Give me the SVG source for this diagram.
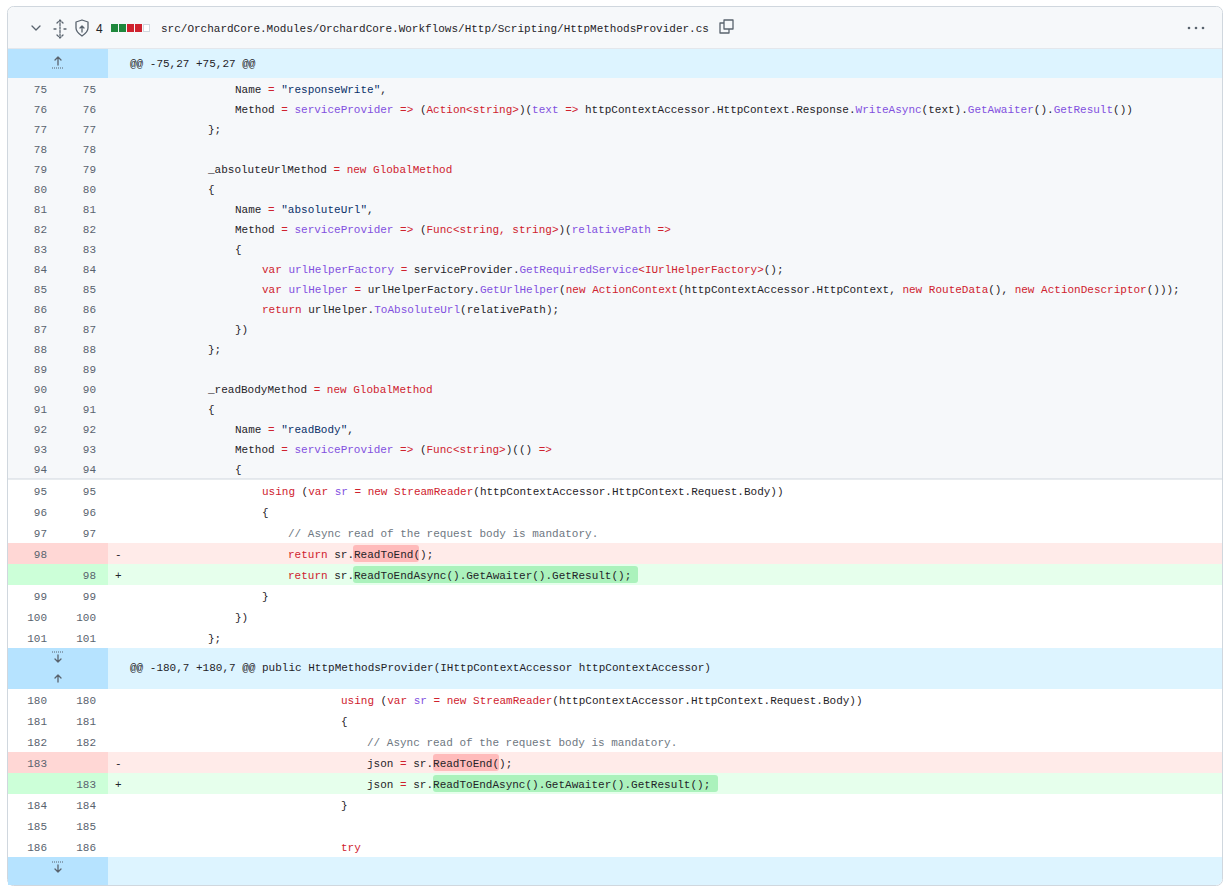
<svg xmlns="http://www.w3.org/2000/svg" width="1230" height="894" viewBox="0 0 1230 894">
<style>
text{font-family:"Liberation Mono","DejaVu Sans Mono",monospace;font-size:11px;fill:#1f2328;white-space:pre}
.n{fill:#59636e;text-anchor:end}
.k{fill:#cf222e}.f{fill:#8250df}.s{fill:#0a3069}.c{fill:#6e7781}
.ic{fill:none;stroke:#59636e;stroke-width:1.3;stroke-linecap:round;stroke-linejoin:round}
</style>
<rect x="0" y="0" width="1230" height="894" fill="#fff"/>
<g id="frame">
<rect x="7.5" y="6.5" width="1215" height="879" rx="6" fill="#fff" stroke="#d0d7de"/>
<path d="M8 49 V13 a6 6 0 0 1 6 -6 H1216 a6 6 0 0 1 6 6 V49 Z" fill="#f6f8fa"/>
<line x1="8" y1="49" x2="1222" y2="49" stroke="#d0d7de"/>
</g>
<g id="header">
<path class="ic" d="M32 26 l4 4 l4 -4"/>
<path class="ic" d="M60 20 v18 M57 23 l3 -3 l3 3 M57 35 l3 3 l3 -3 M54 29 h2 M64 29 h2" stroke-dasharray="2 1.5"/>
<path class="ic" d="M82 20 l6 2 v6 c0 4 -3 6 -6 8 c-3 -2 -6 -4 -6 -8 v-6 z M82 32 v-6 M80 28 l2 -2 l2 2"/>
<text x="96" y="33" style="font-family:'Liberation Sans',sans-serif;font-size:12px">4</text>
<rect x="111" y="24" width="7" height="8" fill="#1f883d"/>
<rect x="119" y="24" width="7" height="8" fill="#1f883d"/>
<rect x="127" y="24" width="7" height="8" fill="#cf222e"/>
<rect x="135" y="24" width="7" height="8" fill="#cf222e"/>
<rect x="143.5" y="24.5" width="6" height="7" fill="#fff" stroke="#d0d7de"/>
<text x="161" y="32" style="font-size:11px">src/OrchardCore.Modules/OrchardCore.Workflows/Http/Scripting/HttpMethodsProvider.cs</text>
<path class="ic" d="M724 23 h-4 v10 h9 v-4 M724 20 h9 v9 h-9 z"/>
<circle cx="1189" cy="28" r="1.3" fill="#59636e"/><circle cx="1196" cy="28" r="1.3" fill="#59636e"/><circle cx="1203" cy="28" r="1.3" fill="#59636e"/>
</g>
<g id="backgrounds">
<rect x="8" y="49" width="100" height="29" fill="#b6e3ff"/><rect x="108" y="49" width="1114" height="29" fill="#ddf4ff"/>
<rect x="8" y="78" width="1214" height="401" fill="#f6f8fa"/>
<line x1="8" y1="479" x2="1222" y2="479" stroke="#d0d7de"/>
<rect x="8" y="543" width="100" height="21" fill="#ffd7d5"/><rect x="108" y="543" width="1114" height="21" fill="#ffebe9"/>
<rect x="8" y="564" width="100" height="21" fill="#ccffd8"/><rect x="108" y="564" width="1114" height="21" fill="#e6ffec"/>
<rect x="8" y="648" width="100" height="41" fill="#b6e3ff"/><rect x="108" y="648" width="1114" height="41" fill="#ddf4ff"/>
<rect x="8" y="752" width="100" height="21" fill="#ffd7d5"/><rect x="108" y="752" width="1114" height="21" fill="#ffebe9"/>
<rect x="8" y="773" width="100" height="21" fill="#ccffd8"/><rect x="108" y="773" width="1114" height="21" fill="#e6ffec"/>
<rect x="8" y="857" width="100" height="28" fill="#b6e3ff"/><path d="M108 857 H1222 V879 a6 6 0 0 1 -6 6 H108 Z" fill="#ddf4ff"/>
<rect x="353" y="545" width="66" height="17" rx="3" fill="#ff8182" fill-opacity="0.45"/>
<rect x="353" y="566" width="285" height="17" rx="3" fill="#abf2bc"/>
<rect x="433" y="754" width="66" height="17" rx="3" fill="#ff8182" fill-opacity="0.45"/>
<rect x="433" y="775" width="285" height="17" rx="3" fill="#abf2bc"/>
</g>
<g id="hunk-icons">
<path class="ic" d="M58 65 v-8 M55 60 l3 -3 l3 3"/><path d="M52 68 h12" stroke="#59636e" stroke-dasharray="1 1"/>
<path d="M52 652 h12" stroke="#59636e" stroke-dasharray="1 1"/><path class="ic" d="M58 655 v7 M55 659 l3 3 l3 -3"/>
<path class="ic" d="M58 682 v-7 M55 678 l3 -3 l3 3"/>
<path d="M52 862 h12" stroke="#59636e" stroke-dasharray="1 1"/><path class="ic" d="M58 865 v7 M55 869 l3 3 l3 -3"/>
<text x="130" y="67">@@ -75,27 +75,27 @@</text>
<text x="130" y="671">@@ -180,7 +180,7 @@ public HttpMethodsProvider(IHttpContextAccessor httpContextAccessor)</text>
</g>
<g id="numbers">
<text class="n" x="47" y="93">75</text><text class="n" x="96" y="93">75</text>
<text class="n" x="47" y="113">76</text><text class="n" x="96" y="113">76</text>
<text class="n" x="47" y="133">77</text><text class="n" x="96" y="133">77</text>
<text class="n" x="47" y="153">78</text><text class="n" x="96" y="153">78</text>
<text class="n" x="47" y="173">79</text><text class="n" x="96" y="173">79</text>
<text class="n" x="47" y="193">80</text><text class="n" x="96" y="193">80</text>
<text class="n" x="47" y="213">81</text><text class="n" x="96" y="213">81</text>
<text class="n" x="47" y="233">82</text><text class="n" x="96" y="233">82</text>
<text class="n" x="47" y="253">83</text><text class="n" x="96" y="253">83</text>
<text class="n" x="47" y="273">84</text><text class="n" x="96" y="273">84</text>
<text class="n" x="47" y="293">85</text><text class="n" x="96" y="293">85</text>
<text class="n" x="47" y="313">86</text><text class="n" x="96" y="313">86</text>
<text class="n" x="47" y="333">87</text><text class="n" x="96" y="333">87</text>
<text class="n" x="47" y="353">88</text><text class="n" x="96" y="353">88</text>
<text class="n" x="47" y="373">89</text><text class="n" x="96" y="373">89</text>
<text class="n" x="47" y="393">90</text><text class="n" x="96" y="393">90</text>
<text class="n" x="47" y="413">91</text><text class="n" x="96" y="413">91</text>
<text class="n" x="47" y="433">92</text><text class="n" x="96" y="433">92</text>
<text class="n" x="47" y="453">93</text><text class="n" x="96" y="453">93</text>
<text class="n" x="47" y="473">94</text><text class="n" x="96" y="473">94</text>
<text class="n" x="47" y="495">95</text><text class="n" x="96" y="495">95</text>
<text class="n" x="47" y="516">96</text><text class="n" x="96" y="516">96</text>
<text class="n" x="47" y="537">97</text><text class="n" x="96" y="537">97</text>
<text class="n" x="47" y="558">98</text>
<text class="n" x="96" y="579">98</text>
<text class="n" x="47" y="600">99</text><text class="n" x="96" y="600">99</text>
<text class="n" x="47" y="621">100</text><text class="n" x="96" y="621">100</text>
<text class="n" x="47" y="642">101</text><text class="n" x="96" y="642">101</text>
<text class="n" x="47" y="704">180</text><text class="n" x="96" y="704">180</text>
<text class="n" x="47" y="725">181</text><text class="n" x="96" y="725">181</text>
<text class="n" x="47" y="746">182</text><text class="n" x="96" y="746">182</text>
<text class="n" x="47" y="767">183</text>
<text class="n" x="96" y="788">183</text>
<text class="n" x="47" y="809">184</text><text class="n" x="96" y="809">184</text>
<text class="n" x="47" y="830">185</text><text class="n" x="96" y="830">185</text>
<text class="n" x="47" y="851">186</text><text class="n" x="96" y="851">186</text>
</g>
<g id="code">
<text x="235" y="93">Name <tspan class="k">=</tspan> <tspan class="s">"responseWrite"</tspan>,</text>
<text x="235" y="113">Method <tspan class="k">=</tspan> <tspan class="f">serviceProvider</tspan> <tspan class="k">=&gt;</tspan> (<tspan class="k">Action&lt;string&gt;</tspan>)(<tspan class="f">text</tspan> <tspan class="k">=&gt;</tspan> httpContextAccessor.HttpContext.Response.<tspan class="f">WriteAsync</tspan>(text).<tspan class="f">GetAwaiter</tspan>().<tspan class="f">GetResult</tspan>())</text>
<text x="208" y="133">};</text>
<text x="208" y="173">_absoluteUrlMethod <tspan class="k">=</tspan> <tspan class="k">new</tspan> <tspan class="k">GlobalMethod</tspan></text>
<text x="208" y="193">{</text>
<text x="235" y="213">Name <tspan class="k">=</tspan> <tspan class="s">"absoluteUrl"</tspan>,</text>
<text x="235" y="233">Method <tspan class="k">=</tspan> <tspan class="f">serviceProvider</tspan> <tspan class="k">=&gt;</tspan> (<tspan class="k">Func&lt;string, string&gt;</tspan>)(<tspan class="f">relativePath</tspan> <tspan class="k">=&gt;</tspan></text>
<text x="235" y="253">{</text>
<text x="262" y="273"><tspan class="k">var</tspan> <tspan class="f">urlHelperFactory</tspan> <tspan class="k">=</tspan> serviceProvider.<tspan class="f">GetRequiredService</tspan><tspan class="k">&lt;IUrlHelperFactory&gt;</tspan>();</text>
<text x="262" y="293"><tspan class="k">var</tspan> <tspan class="f">urlHelper</tspan> <tspan class="k">=</tspan> urlHelperFactory.<tspan class="f">GetUrlHelper</tspan>(<tspan class="k">new</tspan> <tspan class="k">ActionContext</tspan>(httpContextAccessor.HttpContext, <tspan class="k">new</tspan> <tspan class="k">RouteData</tspan>(), <tspan class="k">new</tspan> <tspan class="k">ActionDescriptor</tspan>()));</text>
<text x="262" y="313"><tspan class="k">return</tspan> urlHelper.<tspan class="f">ToAbsoluteUrl</tspan>(relativePath);</text>
<text x="235" y="333">})</text>
<text x="208" y="353">};</text>
<text x="208" y="393">_readBodyMethod <tspan class="k">=</tspan> <tspan class="k">new</tspan> <tspan class="k">GlobalMethod</tspan></text>
<text x="208" y="413">{</text>
<text x="235" y="433">Name <tspan class="k">=</tspan> <tspan class="s">"readBody"</tspan>,</text>
<text x="235" y="453">Method <tspan class="k">=</tspan> <tspan class="f">serviceProvider</tspan> <tspan class="k">=&gt;</tspan> (<tspan class="k">Func&lt;string&gt;</tspan>)(() <tspan class="k">=&gt;</tspan></text>
<text x="235" y="473">{</text>
<text x="262" y="495"><tspan class="k">using</tspan> (<tspan class="k">var</tspan> <tspan class="f">sr</tspan> <tspan class="k">=</tspan> <tspan class="k">new</tspan> <tspan class="k">StreamReader</tspan>(httpContextAccessor.HttpContext.Request.Body))</text>
<text x="262" y="516">{</text>
<text x="288" y="537" class="c">// Async read of the request body is mandatory.</text>
<text x="115" y="558">-</text>
<text x="288" y="558"><tspan class="k">return</tspan> sr.ReadToEnd();</text>
<text x="115" y="579">+</text>
<text x="288" y="579"><tspan class="k">return</tspan> sr.ReadToEndAsync().GetAwaiter().GetResult();</text>
<text x="262" y="600">}</text>
<text x="235" y="621">})</text>
<text x="208" y="642">};</text>
<text x="341" y="704"><tspan class="k">using</tspan> (<tspan class="k">var</tspan> <tspan class="f">sr</tspan> <tspan class="k">=</tspan> <tspan class="k">new</tspan> <tspan class="k">StreamReader</tspan>(httpContextAccessor.HttpContext.Request.Body))</text>
<text x="341" y="725">{</text>
<text x="367" y="746" class="c">// Async read of the request body is mandatory.</text>
<text x="115" y="767">-</text>
<text x="367" y="767">json <tspan class="k">=</tspan> sr.ReadToEnd();</text>
<text x="115" y="788">+</text>
<text x="367" y="788">json <tspan class="k">=</tspan> sr.ReadToEndAsync().GetAwaiter().GetResult();</text>
<text x="341" y="809">}</text>
<text x="341" y="851" class="k">try</text>
</g>
</svg>
